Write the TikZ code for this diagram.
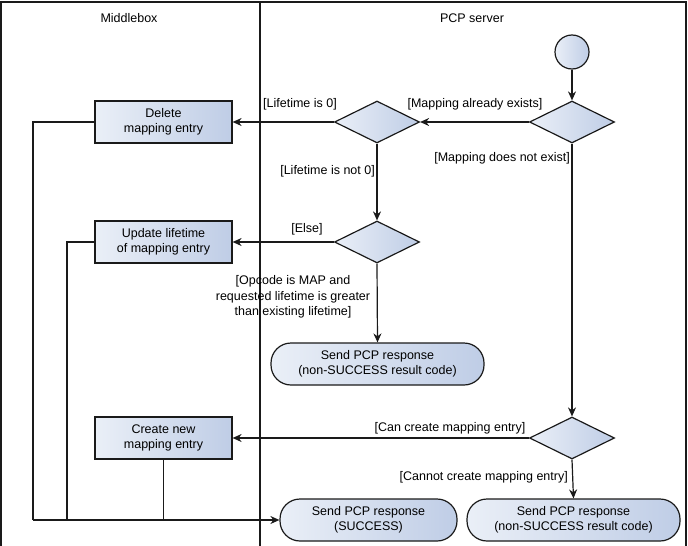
\documentclass[tikz,border=0pt]{standalone}
\usepackage{fontspec}
\setmainfont{Liberation Sans}
\usetikzlibrary{shapes.geometric,arrows.meta}
\definecolor{gA}{HTML}{EAEFF7}
\definecolor{gB}{HTML}{BFCDE6}
\definecolor{ln}{HTML}{1A1A1A}
\tikzset{
  every node/.style={font=\fontsize{12.5}{15.5}\selectfont},
  grad/.style={left color=gA, right color=gB, draw=ln, line width=1.2pt},
  actbox/.style={grad, rectangle, minimum width=137pt, minimum height=42pt, inner sep=0pt, align=center},
  decis/.style={grad, diamond, minimum width=85pt, minimum height=42pt, inner sep=0pt},
  endoval/.style={grad, rectangle, rounded corners=20pt, minimum height=42pt, inner sep=0pt, align=center},
  flow/.style={draw=ln, line width=1.2pt, -{Stealth[length=9pt,width=8pt]}},
  plain/.style={draw=ln, line width=1.2pt},
  lbl/.style={inner sep=0pt, align=center},
}
\begin{document}
\begin{tikzpicture}[x=1pt,y=-1pt]
\useasboundingbox (0,0) rectangle (688,546);
% swimlanes
\draw[ln, line width=1.2pt] (1,546) -- (1,2) -- (686,2) -- (686,546);
\draw[ln, line width=1.2pt] (260,2) -- (260,546);
\node[lbl] (t1) at (129,18) {Middlebox};
\node[lbl] (t2) at (472,18) {PCP server};
% nodes
\node[grad, circle, minimum size=34pt, inner sep=0pt] (start) at (572,52) {};
\node[decis] (d1) at (572,122) {};
\node[decis] (d2) at (377,122) {};
\node[decis] (d3) at (377,242) {};
\node[decis] (d4) at (572,438) {};
\node[actbox] (del) at (163.5,122) {Delete\\mapping entry};
\node[actbox] (upd) at (163.5,242) {Update lifetime\\of mapping entry};
\node[actbox] (cre) at (163.5,438) {Create new\\mapping entry};
\node[endoval, minimum width=213pt] (r1) at (377.5,364) {Send PCP response\\(non-SUCCESS result code)};
\node[endoval, minimum width=177pt] (r2) at (368.5,520) {Send PCP response\\(SUCCESS)};
\node[endoval, minimum width=213pt] (r3) at (573.5,520) {Send PCP response\\(non-SUCCESS result code)};
% connectors
\draw[flow] (start) -- (d1.north);
\draw[flow] (d1.west) -- (d2.east);
\draw[flow] (d2.west) -- (del.east);
\draw[flow] (d2.south) -- (d3.north);
\draw[flow] (d3.west) -- (upd.east);
\draw[flow] (d3.south) -- (r1.north);
\draw[flow] (d1.south) -- (d4.north);
\draw[flow] (d4.west) -- (cre.east);
\draw[flow] (d4.south) -- (r3.north);
\coordinate (j1) at (33,520);
\coordinate (j2) at (67,520);
\coordinate (j3) at (163.5,520);
\draw[plain] (del.west) -| (j1);
\draw[plain] (upd.west) -| (j2);
\draw[plain] (cre.south) -- (j3);
\draw[flow] (j1) -- (r2.west);
% labels
\node[lbl] (l1) at (300,104) {[Lifetime is 0]};
\node[lbl] (l2) at (475,104) {[Mapping already exists]};
\node[lbl, anchor=east] (l3) at (570,158) {[Mapping does not exist]};
\node[lbl, anchor=east] (l4) at (375,171) {[Lifetime is not 0]};
\node[lbl] (l5) at (307,229) {[Else]};
\node[lbl] (l6) at (293,297) {[Opcode is MAP and\\requested lifetime is greater\\than existing lifetime]};
\node[lbl] (l7) at (450,428) {[Can create mapping entry]};
\node[lbl, anchor=east] (l8) at (568,477) {[Cannot create mapping entry]};
\end{tikzpicture}
\end{document}
